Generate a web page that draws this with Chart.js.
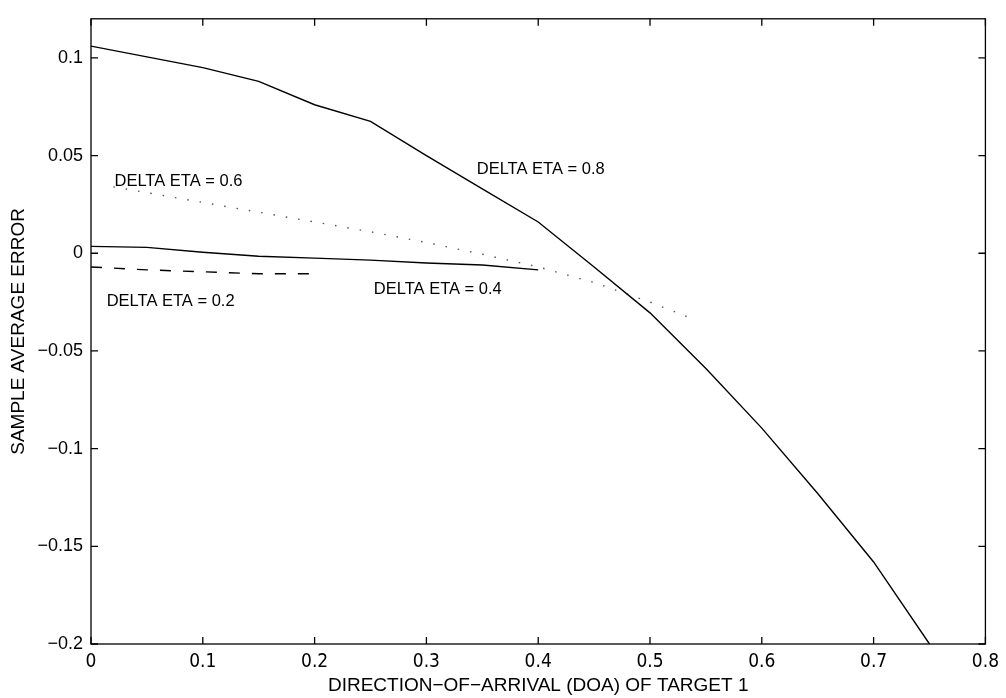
<!DOCTYPE html>
<html>
<head>
<meta charset="utf-8">
<script src="https://cdn.jsdelivr.net/npm/chart.js@4/dist/chart.umd.min.js"></script>
<style>
  html, body { margin: 0; padding: 0; background: #fff; }
  #wrap { width: 1006px; height: 698px; }
</style>
</head>
<body>
<div id="wrap"><canvas id="chart" width="1006" height="698"></canvas></div>
<script>
// values
const doa08 = [0, 0.05, 0.1, 0.15, 0.2, 0.25, 0.3, 0.35, 0.4, 0.45, 0.5, 0.55, 0.6, 0.65, 0.7, 0.75];
const err08 = [0.106, 0.1005, 0.095, 0.088, 0.076, 0.0675, 0.050, 0.033, 0.016, -0.007, -0.0305, -0.059, -0.0895, -0.123, -0.158, -0.2];

const doa06 = [0.02, 0.05, 0.1, 0.15, 0.2, 0.25, 0.3, 0.35, 0.4, 0.45, 0.5, 0.54];
const err06 = [0.034, 0.031, 0.026, 0.021, 0.016, 0.011, 0.0055, -0.0005, -0.007, -0.015, -0.025, -0.034];

const doa04 = [0, 0.05, 0.1, 0.15, 0.2, 0.25, 0.3, 0.35, 0.4];
const err04 = [0.0035, 0.003, 0.0005, -0.0015, -0.0025, -0.0035, -0.005, -0.006, -0.0085];

const doa02 = [0, 0.05, 0.1, 0.15, 0.2];
const err02 = [-0.007, -0.0085, -0.0095, -0.0105, -0.0105];

const xTicks = [0, 0.1, 0.2, 0.3, 0.4, 0.5, 0.6, 0.7, 0.8];
const yTicks = [-0.2, -0.15, -0.1, -0.05, 0, 0.05, 0.1];

const curveLabels = [
    { text: "DELTA ETA = 0.8", x: 0.345, y: 0.043 },
    { text: "DELTA ETA = 0.6", x: 0.021, y: 0.037 },
    { text: "DELTA ETA = 0.4", x: 0.253, y: -0.0185 },
    { text: "DELTA ETA = 0.2", x: 0.014, y: -0.0245 }
];

const FONT = "Liberation Sans, Arial, Helvetica, sans-serif";
const NARROW = "Liberation Sans Narrow, DejaVu Sans Condensed, Arial, sans-serif";

function points(xs, ys) {
    return xs.map((x, i) => ({ x: x, y: ys[i] }));
}

function fmt(v) {
    return String(Math.round(v * 1000) / 1000).replace("-", "\u2212");
}

// box around the plot with inward ticks on every side, plus curve labels
const framePlugin = {
    id: "frame",
    afterDatasetsDraw(chart) {
        const ctx = chart.ctx;
        const a = chart.chartArea;
        const xs = chart.scales.x;
        const ys = chart.scales.y;
        ctx.save();
        ctx.strokeStyle = "#000";
        ctx.lineWidth = 1.3;
        ctx.strokeRect(a.left, a.top, a.right - a.left, a.bottom - a.top);
        ctx.beginPath();
        xTicks.forEach(v => {
            const px = xs.getPixelForValue(v);
            ctx.moveTo(px, a.bottom);
            ctx.lineTo(px, a.bottom - 7);
            ctx.moveTo(px, a.top);
            ctx.lineTo(px, a.top + 7);
        });
        yTicks.forEach(v => {
            const py = ys.getPixelForValue(v);
            ctx.moveTo(a.left, py);
            ctx.lineTo(a.left + 7, py);
            ctx.moveTo(a.right, py);
            ctx.lineTo(a.right - 7, py);
        });
        ctx.stroke();

        ctx.fillStyle = "#000";
        ctx.font = "16.5px " + FONT;
        ctx.textAlign = "left";
        ctx.textBaseline = "middle";
        curveLabels.forEach(l => {
            ctx.fillText(l.text, xs.getPixelForValue(l.x), ys.getPixelForValue(l.y));
        });
        ctx.restore();
    }
};

new Chart(document.getElementById("chart"), {
    type: "line",
    data: {
        datasets: [
            { data: points(doa08, err08), borderColor: "#000", borderWidth: 1.4 },
            { data: points(doa06, err06), borderColor: "#555", borderWidth: 1.4, borderDash: [1.5, 11] },
            { data: points(doa04, err04), borderColor: "#000", borderWidth: 1.4 },
            { data: points(doa02, err02), borderColor: "#000", borderWidth: 1.4, borderDash: [11, 12] }
        ]
    },
    options: {
        responsive: false,
        animation: false,
        events: [],
        layout: { padding: { top: 4, right: 17, left: 0, bottom: 0 } },
        elements: {
            point: { radius: 0 },
            line: { tension: 0, fill: false }
        },
        plugins: {
            legend: { display: false },
            tooltip: { enabled: false }
        },
        scales: {
            x: {
                type: "linear",
                min: 0,
                max: 0.8,
                grid: { display: false, drawTicks: false },
                border: { display: false },
                afterBuildTicks: s => { s.ticks = xTicks.map(v => ({ value: v })); },
                afterFit: s => { s.height = 54; },
                ticks: {
                    color: "#000",
                    padding: 7,
                    maxRotation: 0,
                    autoSkip: false,
                    font: { family: NARROW, size: 19 },
                    callback: v => fmt(v)
                },
                title: {
                    display: true,
                    text: "DIRECTION\u2212OF\u2212ARRIVAL (DOA) OF TARGET 1",
                    color: "#000",
                    font: { family: FONT, size: 19 },
                    padding: { top: 0, bottom: 1 }
                }
            },
            y: {
                type: "linear",
                min: -0.2,
                max: 0.12,
                grid: { display: false, drawTicks: false },
                border: { display: false },
                afterBuildTicks: s => { s.ticks = yTicks.map(v => ({ value: v })); },
                afterFit: s => { s.width = 91; },
                ticks: {
                    color: "#000",
                    padding: 8,
                    autoSkip: false,
                    font: { family: FONT, size: 18 },
                    callback: v => fmt(v)
                },
                title: {
                    display: true,
                    text: "SAMPLE AVERAGE ERROR",
                    color: "#000",
                    font: { family: FONT, size: 19 },
                    padding: { top: 7, bottom: 0 }
                }
            }
        }
    },
    plugins: [framePlugin]
});
</script>
</body>
</html>
